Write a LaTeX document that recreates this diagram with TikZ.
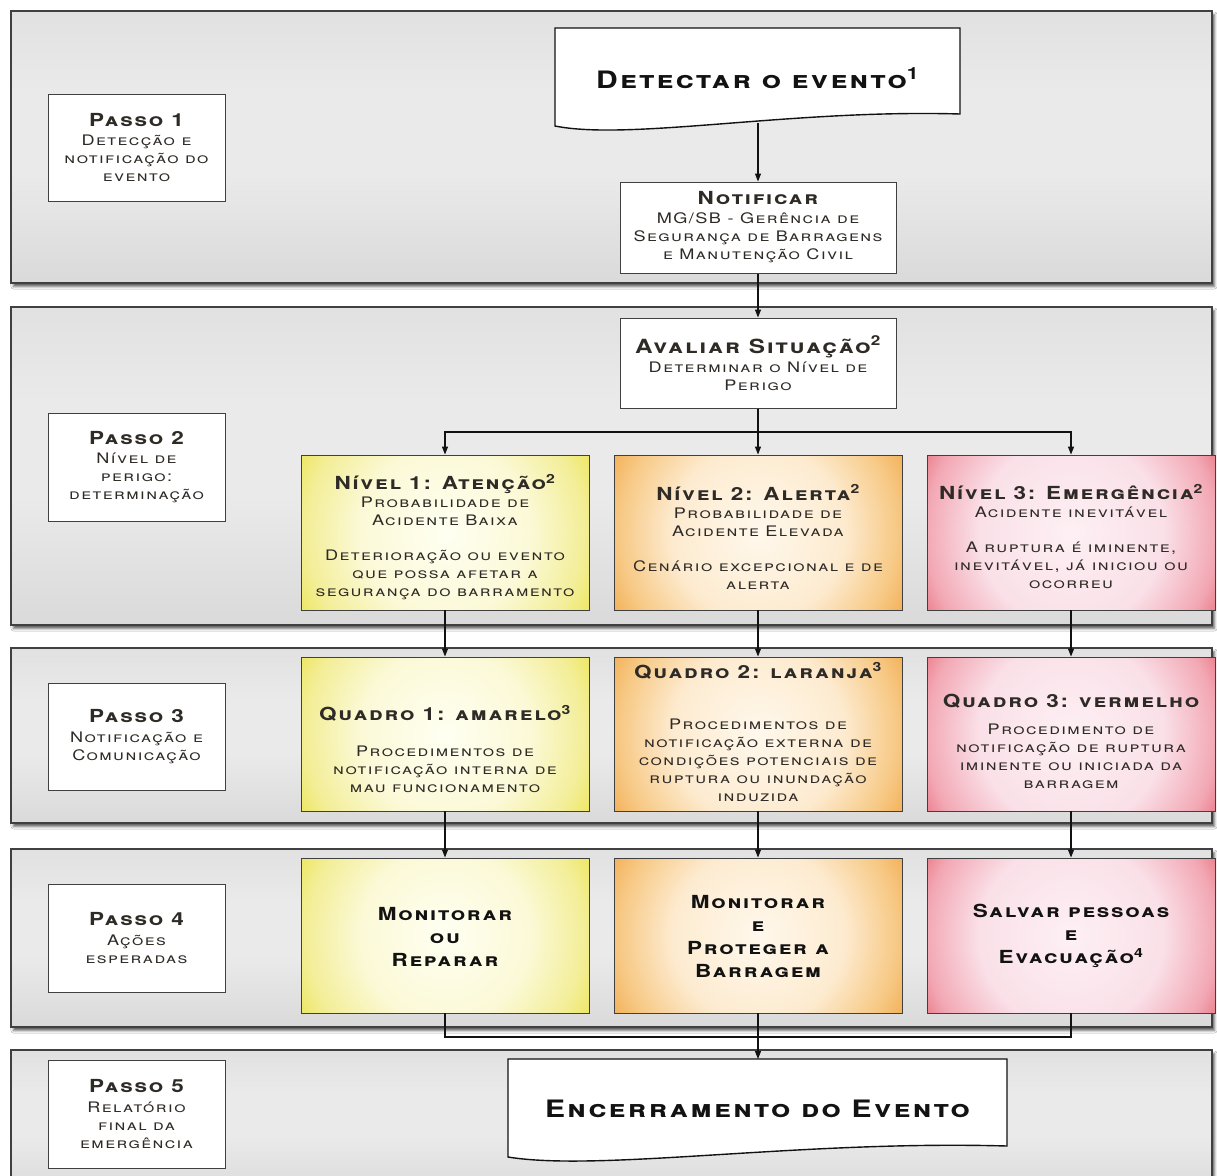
\documentclass[tikz,border=0pt]{standalone}
\usepackage{fontspec}
\setmainfont{TeX Gyre Heros}
\newfontfamily\cgfont{TeX Gyre Heros}[FakeStretch=1.25, LetterSpace=10]
\usetikzlibrary{arrows.meta,calc,shadows.blur}

\definecolor{bandtop}{HTML}{D2D2D2}
\definecolor{bandmid}{HTML}{EAEAEA}
\definecolor{bandbot}{HTML}{CFCFCF}
\definecolor{edge}{HTML}{404040}
\definecolor{ink}{HTML}{121212}
\definecolor{bodyink}{HTML}{2E2A26}
\definecolor{yC}{HTML}{FFFFF2}
\definecolor{yA}{HTML}{FBF9D6}
\definecolor{yB}{HTML}{F3EE98}
\definecolor{yE}{HTML}{EBE348}
\definecolor{yD}{HTML}{E4DA1C}
\definecolor{oC}{HTML}{FFF8EC}
\definecolor{oA}{HTML}{FDEBD0}
\definecolor{oB}{HTML}{F7C985}
\definecolor{oE}{HTML}{F1A443}
\definecolor{oD}{HTML}{EC8A1C}
\definecolor{rC}{HTML}{FDF0F4}
\definecolor{rA}{HTML}{FAE0E8}
\definecolor{rB}{HTML}{F2A8B4}
\definecolor{rE}{HTML}{E65868}
\definecolor{rD}{HTML}{DC2030}

\pgfdeclareverticalshading{bandsh}{100bp}{color(0bp)=(bandbot); color(12bp)=(bandbot); color(45bp)=(bandmid); color(60bp)=(bandmid); color(100bp)=(bandtop)}
\pgfdeclareradialshading{yelsh}{\pgfpoint{0bp}{0bp}}{color(0bp)=(yC); color(13bp)=(yA); color(21bp)=(yB); color(27bp)=(yE); color(32bp)=(yD); color(50bp)=(yD)}
\pgfdeclareradialshading{orash}{\pgfpoint{0bp}{0bp}}{color(0bp)=(oC); color(13bp)=(oA); color(21bp)=(oB); color(27bp)=(oE); color(32bp)=(oD); color(50bp)=(oD)}
\pgfdeclareradialshading{redsh}{\pgfpoint{0bp}{0bp}}{color(0bp)=(rC); color(14bp)=(rA); color(22bp)=(rB); color(28bp)=(rE); color(33bp)=(rD); color(50bp)=(rD)}

\newcommand{\ttlfont}{\fontsize{18}{20}\selectfont\cgfont\bfseries\scshape}
\newcommand{\bdyfont}{\fontsize{14.5}{18}\selectfont\cgfont\scshape}

\tikzset{
  band/.style={draw=edge, line width=1.2pt, shading=bandsh,
    blur shadow={shadow xshift=2.5pt, shadow yshift=-3.5pt, shadow blur radius=2.5pt, shadow opacity=65}},
  whitebox/.style={draw=edge, line width=1pt, fill=white, inner sep=0pt, align=center,
    text=bodyink, font=\bdyfont},
  stepbox/.style={whitebox, minimum width=177pt},
  colbox/.style={draw=edge, line width=0.9pt, inner sep=0pt, minimum width=288pt},
  shadedin/.style={path picture={\shade[shading=#1]
      ($(path picture bounding box.center)+(-165,-165)$) rectangle
      ($(path picture bounding box.center)+(165,165)$);}},
  yelbox/.style={colbox, shadedin=yelsh},
  orabox/.style={colbox, shadedin=orash},
  redbox/.style={colbox, shadedin=redsh},
  boxtext/.style={align=center, inner sep=0pt, text=bodyink, font=\bdyfont},
  acttext/.style={align=center, inner sep=0pt, text=ink,
    font=\fontsize{18}{23}\selectfont\cgfont\bfseries\scshape},
  doctext/.style={inner sep=0pt, text=ink, font=\fontsize{24}{26}\selectfont\cgfont\bfseries\scshape},
  docshape/.style={draw=ink, line width=1.4pt, fill=white},
  arr/.style={draw=ink, line width=1.1pt, -{Triangle[length=8pt,width=6pt]}},
  link/.style={draw=ink, line width=1.1pt},
}

\begin{document}
\begin{tikzpicture}[x=1pt, y=-1pt]
\useasboundingbox[fill=white] (0,0) rectangle (1217,1175);

% step bands
\shade[band] (11,11) rectangle (1212,283);
\shade[band] (11,307) rectangle (1212,625);
\shade[band] (11,648) rectangle (1212,823);
\shade[band] (11,849) rectangle (1212,1027);
\shade[band] (11,1050) rectangle (1212,1195);

% step labels on the left
\node[stepbox, minimum height=107pt] (s1) at (136.5,147.5)
  {{\ttlfont Passo 1}\\[1.5pt]Detecção e\\notificação do\\evento};
\node[stepbox, minimum height=108pt] (s2) at (136.5,467)
  {{\ttlfont Passo 2}\\[1.5pt]Nível de\\perigo:\\determinação};
\node[stepbox, minimum height=107pt] (s3) at (136.5,736.5)
  {{\ttlfont Passo 3}\\[1.5pt]Notificação e\\Comunicação};
\node[stepbox, minimum height=108pt] (s4) at (136.5,938)
  {{\ttlfont Passo 4}\\[1.5pt]Ações\\esperadas};
\node[stepbox, minimum height=108pt] (s5) at (136.5,1114)
  {{\ttlfont Passo 5}\\[1.5pt]Relatório\\final da\\emergência};

% event detection (document shape)
\draw[docshape] (555,126) -- (555,28) -- (960,28) -- (960,114)
  .. controls (792,109) and (630,141) .. (555,126) -- cycle;
\node[doctext] (det) at (757.5,78) {Detectar o evento\textsuperscript{1}};
\coordinate (detbot) at (758,122.5);

% notification and assessment
\node[whitebox, minimum width=276pt, minimum height=91pt] (notif) at (758,227.5)
  {{\ttlfont Notificar}\\[1pt]MG/SB - Gerência de\\Segurança de Barragens\\e Manutenção Civil};
\node[whitebox, minimum width=276pt, minimum height=90pt] (aval) at (758,363)
  {{\ttlfont\fontsize{19.5}{20}\selectfont Avaliar Situação\textsuperscript{2}}\\[1pt]Determinar o Nível de\\Perigo};

% hazard levels
\node[yelbox, minimum height=155pt] (n1) at (445,532.5) {};
\node[orabox, minimum height=155pt] (n2) at (758,532.5) {};
\node[redbox, minimum height=155pt] (n3) at (1071,532.5) {};
\node[boxtext] (n1t) at (445,537)
  {{\ttlfont Nível 1: Atenção\textsuperscript{2}}\\Probabilidade de\\Acidente Baixa\\[17pt]Deterioração ou evento\\que possa afetar a\\segurança do barramento};
\node[boxtext] (n2t) at (758,537)
  {{\ttlfont Nível 2: Alerta\textsuperscript{2}}\\Probabilidade de\\Acidente Elevada\\[17pt]Cenário excepcional e de\\alerta};
\node[boxtext] (n3t) at (1071,536.5)
  {{\ttlfont Nível 3: Emergência\textsuperscript{2}}\\Acidente inevitável\\[17pt]A ruptura é iminente,\\inevitável, já iniciou ou\\ocorreu};

% notification frames
\node[yelbox, minimum height=154pt] (q1) at (445,734) {};
\node[orabox, minimum height=154pt] (q2) at (758,734) {};
\node[redbox, minimum height=154pt] (q3) at (1071,734) {};
\node[boxtext] (q1t) at (445,749)
  {{\ttlfont Quadro 1: amarelo\textsuperscript{3}}\\[18pt]Procedimentos de\\notificação interna de\\mau funcionamento};
\node[boxtext] (q2t) at (758,732)
  {{\ttlfont Quadro 2: laranja\textsuperscript{3}}\\[33pt]Procedimentos de\\notificação externa de\\condições potenciais de\\ruptura ou inundação\\induzida};
\node[boxtext] (q3t) at (1071,741.5)
  {{\ttlfont Quadro 3: vermelho}\\[9pt]Procedimento de\\notificação de ruptura\\iminente ou iniciada da\\barragem};

% expected actions
\node[yelbox, minimum height=155pt] (a1) at (445,935.5) {};
\node[orabox, minimum height=155pt] (a2) at (758,935.5) {};
\node[redbox, minimum height=155pt] (a3) at (1071,935.5) {};
\node[acttext] (a1t) at (445,937) {Monitorar\\ou\\Reparar};
\node[acttext] (a2t) at (758,937) {Monitorar\\e\\Proteger a\\Barragem};
\node[acttext] (a3t) at (1071,936) {Salvar pessoas\\e\\Evacuação\textsuperscript{4}};

% closing of the event (document shape)
\draw[docshape] (508,1157) -- (508,1059) -- (1007,1059) -- (1007,1146)
  .. controls (800,1140) and (600,1172) .. (508,1157) -- cycle;
\node[doctext] (enc) at (757.5,1109) {Encerramento do Evento};
\coordinate (enctop) at (758,1059);

% connectors
\draw[arr] (detbot) -- (notif.north);
\draw[arr] (notif.south) -- (aval.north);
\coordinate (br) at (758,432);
\draw[arr] (aval.south) -- (n2.north);
\draw[arr] (br) -| (n1.north);
\draw[arr] (br) -| (n3.north);
\draw[arr] (n1.south) -- (q1.north);
\draw[arr] (n2.south) -- (q2.north);
\draw[arr] (n3.south) -- (q3.north);
\draw[arr] (q1.south) -- (a1.north);
\draw[arr] (q2.south) -- (a2.north);
\draw[arr] (q3.south) -- (a3.north);
\coordinate (mj) at (758,1037);
\draw[link] (a1.south) |- (mj);
\draw[link] (a3.south) |- (mj);
\draw[arr] (a2.south) -- (enctop);
\end{tikzpicture}
\end{document}
